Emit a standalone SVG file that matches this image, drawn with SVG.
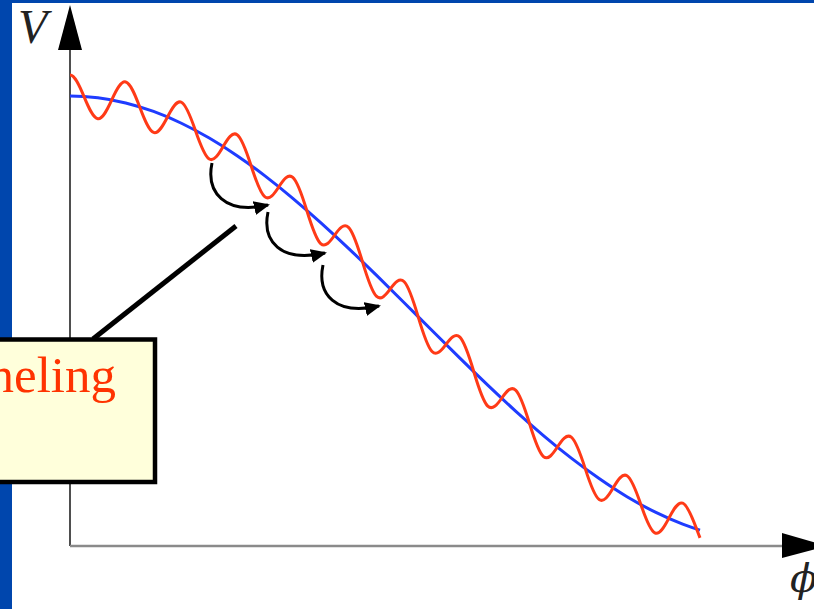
<svg xmlns="http://www.w3.org/2000/svg" width="814" height="609" viewBox="0 0 814 609">
<style>
.blue{fill:none;stroke:#1f3cff;stroke-width:3;stroke-linejoin:round}
.red{fill:none;stroke:#ff3a17;stroke-width:3;stroke-linejoin:round}
.hop{fill:none;stroke:#000;stroke-width:3;marker-end:url(#ah)}
.lbl{font-style:italic;fill:#222}
</style>
<defs>
<marker id="ah" markerWidth="16" markerHeight="14" refX="14" refY="7" orient="auto" markerUnits="userSpaceOnUse"><path d="M0,0 L16,7 L0,14 z" fill="#000"/></marker>
</defs>
<rect x="0" y="0" width="814" height="609" fill="#fff"/>
<rect x="0" y="0" width="814" height="3" fill="#0046ad"/>
<rect x="0" y="0" width="12" height="609" fill="#0046ad"/>
<g id="axes">
<line x1="70" y1="546" x2="70" y2="45" stroke="#222" stroke-width="1.6"/>
<polygon points="70,5 58,50 82,50" fill="#000"/>
<line x1="70" y1="546" x2="784" y2="546" stroke="#8a8a8a" stroke-width="2.5"/>
<polygon points="782,533 782,558 827,546" fill="#000"/>
<text class="lbl" x="18" y="43" font-size="48" font-family="'Liberation Serif',serif">V</text>
<text class="lbl" x="790" y="592" font-size="40" font-family="'DejaVu Serif',serif">ϕ</text>
</g>
<g id="blue-curve">
<path class="blue" d="M70,96 C79.28,96 88.57,96.58 97.85,97.74 C107.13,98.9 116.42,100.63 125.7,102.92 C134.98,105.21 144.27,108.06 153.55,111.46 C162.83,114.86 172.12,118.79 181.4,123.23 C190.68,127.67 199.97,132.63 209.25,138.05 C218.53,143.47 227.82,149.34 237.1,155.66 C246.38,161.98 255.67,168.73 264.95,175.84 C274.23,182.95 283.52,190.48 292.8,198.28 C302.08,206.08 311.37,214.19 320.65,222.55 C329.93,230.91 339.22,239.51 348.5,248.31 C357.78,257.11 367.07,266.1 376.35,275.19 C385.63,284.28 394.92,293.48 404.2,302.73 C413.48,311.98 422.77,321.26 432.05,330.52 C441.33,339.78 450.62,349.01 459.9,358.13 C469.18,367.25 478.47,376.27 487.75,385.11 C497.03,393.96 506.32,402.63 515.6,411.06 C524.88,419.49 534.17,427.66 543.45,435.54 C552.73,443.42 562.02,450.93 571.3,458.15 C580.58,465.37 589.87,472.12 599.15,478.56 C608.43,485 617.72,491.18 627,496.73 C636.28,502.28 645.57,507.36 654.85,511.94 C664.13,516.52 673.42,520.6 682.7,524.14 C688.47,526.34 694.23,528.33 700,530.11"/>
</g>
<g id="red-curve">
<path class="red" d="M70,75 C74.64,75 79.29,85.15 83.93,96.43 C88.57,107.72 93.21,118.16 97.85,118.74 C102.49,119.32 107.14,110.03 111.78,99.9 C116.42,89.77 121.06,80.77 125.7,81.92 C130.34,83.07 134.99,94.36 139.63,106.78 C144.27,119.2 148.91,130.76 153.55,132.46 C158.19,134.16 162.84,125.98 167.48,116.95 C172.12,107.92 176.76,100.01 181.4,102.23 C186.04,104.46 190.69,116.8 195.33,130.27 C199.97,143.74 204.61,156.33 209.25,159.05 C213.89,161.77 218.54,154.57 223.18,146.52 C227.82,138.47 232.46,131.5 237.1,134.66 C241.74,137.82 246.39,151.08 251.03,165.45 C255.67,179.82 260.31,193.28 264.95,196.84 C269.59,200.4 274.24,194.06 278.88,186.8 C283.52,179.55 288.16,173.37 292.8,177.28 C297.44,181.19 302.09,195.16 306.73,210.21 C311.37,225.26 316.01,239.36 320.65,243.55 C325.29,247.74 329.94,241.95 334.58,235.26 C339.22,228.57 343.86,222.91 348.5,227.31 C353.14,231.72 357.79,246.15 362.43,261.64 C367.07,277.13 371.71,291.64 376.35,296.19 C380.99,300.74 385.64,295.31 390.28,288.91 C394.92,282.51 399.56,277.1 404.2,281.73 C408.84,286.36 413.49,300.98 418.13,316.62 C422.77,332.26 427.41,346.89 432.05,351.52 C436.69,356.16 441.34,350.77 445.98,344.38 C450.62,337.99 455.26,332.56 459.9,337.13 C464.54,341.7 469.19,356.22 473.83,371.72 C478.47,387.22 483.11,401.68 487.75,406.11 C492.39,410.54 497.04,404.9 501.68,398.24 C506.32,391.58 510.96,385.84 515.6,390.06 C520.24,394.28 524.89,408.42 529.53,423.51 C534.17,438.6 538.81,452.59 543.45,456.54 C548.09,460.49 552.74,454.27 557.38,447.06 C562.02,439.85 566.66,433.54 571.3,437.15 C575.94,440.76 580.59,454.24 585.23,468.66 C589.87,483.08 594.51,496.34 599.15,499.56 C603.79,502.78 608.44,496.06 613.08,488.07 C617.72,480.08 622.36,472.95 627,475.73 C631.64,478.51 636.29,491.15 640.93,504.69 C645.57,518.23 650.21,530.65 654.85,532.94 C659.49,535.23 664.14,527.39 668.78,518.43 C673.42,509.47 678.06,501.37 682.7,503.14 C687.34,504.91 691.99,516.55 696.63,529.05 C697.75,532.07 698.88,535.09 700,537.91"/>
</g>
<g id="connectors">
<path class="hop" d="M212,163 C206,192 224,215 268,205"/>
<path class="hop" d="M268,212 C262,241 280,263 325,253"/>
<path class="hop" d="M323,265 C317,294 335,316 379,306"/>
<line x1="236" y1="226" x2="93" y2="339" stroke="#000" stroke-width="5"/>
</g>
<g id="callout">
<rect x="-10" y="339.5" width="165" height="142.5" fill="#ffffdb" stroke="#000" stroke-width="4.5"/>
<text x="116" y="392" font-family="'Liberation Serif','Times New Roman',serif" font-size="51" fill="#ff3300" text-anchor="end">neling</text>
</g>
</svg>
